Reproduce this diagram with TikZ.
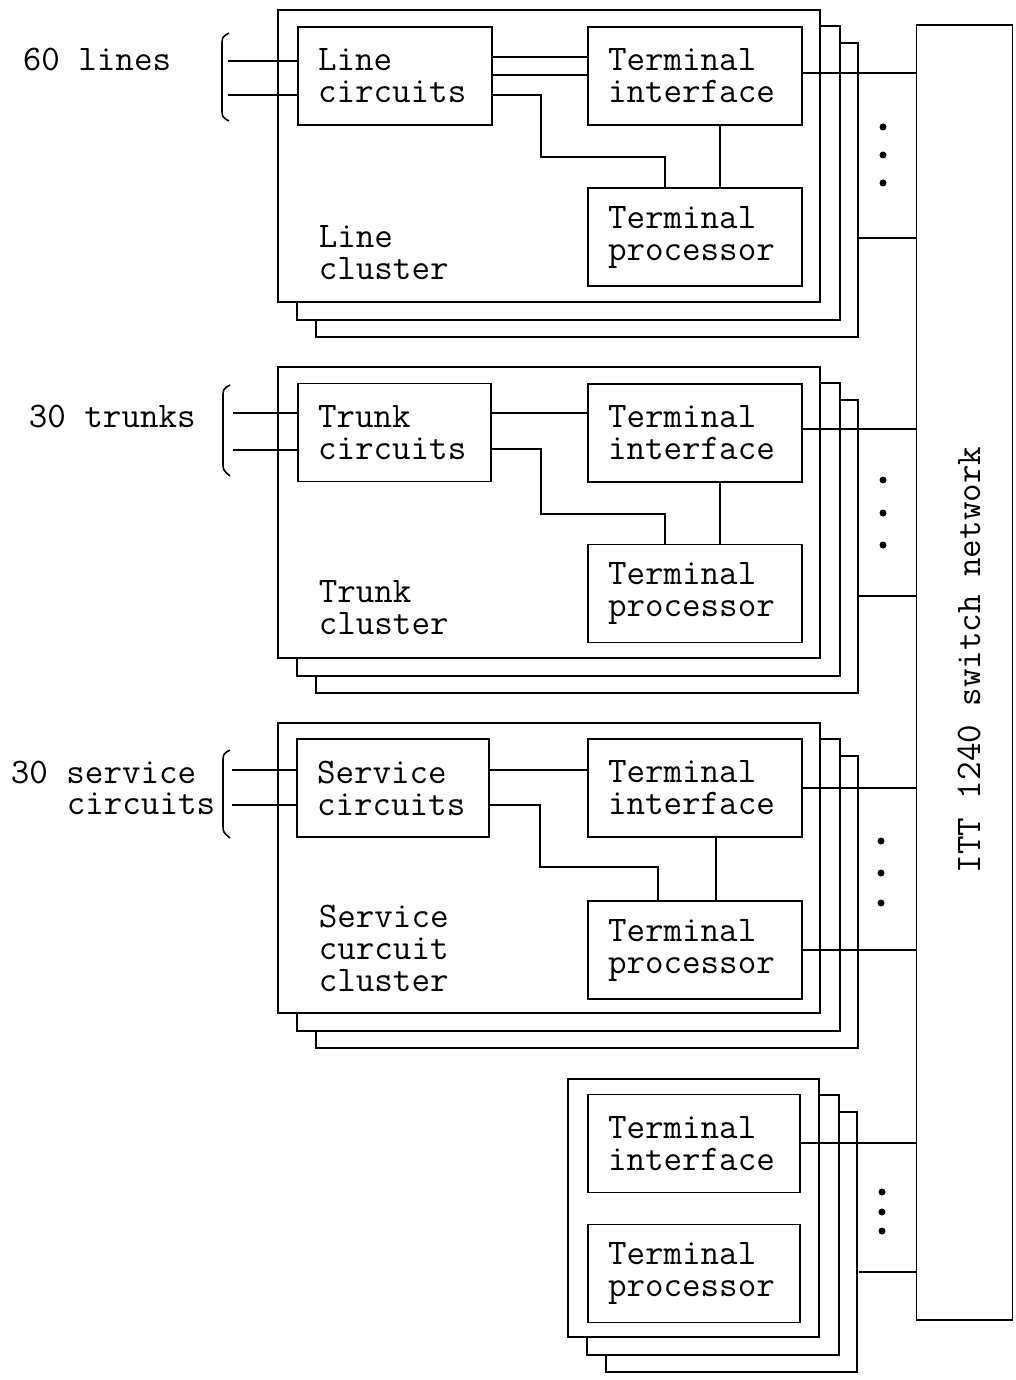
\documentclass[tikz,border=0pt]{standalone}
\usepackage{fontspec}
\usetikzlibrary{calc}
\begin{document}
\begin{tikzpicture}[x=1pt,y=-1pt,line width=1.6pt,
  every node/.style={font=\ttfamily\fontsize{36}{32}\selectfont},
  unit/.style={draw,rectangle,inner xsep=20pt,inner ysep=0pt,minimum height=98pt,align=left,text width=#1},
  cluster/.style={draw,rectangle,inner sep=0pt},
  lbl/.style={anchor=west,inner sep=0pt,align=left},
  dot/.style={fill=black}]
\useasboundingbox (0,0) rectangle (1016,1380);

% ---------- switch network ----------
\node[cluster,minimum width=96pt,minimum height=1295pt] (net) at (964.5,672.5) {};
\node[rotate=90,inner sep=0pt] (netlbl) at (969,660) {ITT 1240 switch network};

% ---------- cluster frames ----------
\node[cluster,minimum width=542pt,minimum height=292pt] (c1) at (549,156) {};
\node[cluster,minimum width=542pt,minimum height=291pt] (c2) at (549,512.5) {};
\node[cluster,minimum width=542pt,minimum height=290pt] (c3) at (549,868) {};
\node[cluster,minimum width=251pt,minimum height=258pt] (c4) at (693.5,1208) {};

% stacked copies behind each frame
\foreach \c in {c1,c2,c3,c4} {
  \draw ($(\c.north east)+(0,17)$) -- ++(19,0) -- ($(\c.south east)+(19,17)$)
        -- ($(\c.south west)+(20,17)$) -- ($(\c.south west)+(20,0)$);
  \draw ($(\c.north east)+(19,34)$) -- ++(18,0) -- ($(\c.south east)+(37,34)$)
        -- ($(\c.south west)+(39,34)$) -- ($(\c.south west)+(39,17)$);
}

% ---------- line cluster ----------
\node[unit=154pt] (lc1) at (395,76) {Line\\circuits};
\node[unit=174pt] (ti1) at (695,76) {Terminal\\interface};
\node[unit=174pt] (tp1) at (695,237) {Terminal\\processor};
\node[lbl] (cl1) at (318,253) {Line\\cluster};
\node[lbl] (in1) at (22,60) {60 lines};

\draw (lc1.east |- 0,57) -- (ti1.west |- 0,57);
\draw (lc1.east |- 0,75) -- (ti1.west |- 0,75);
\draw (lc1.east |- 0,95) -- (541,95) -- (541,157) -- (665,157) -- (tp1.north -| 665,0);
\draw (ti1.south -| 720,0) -- (tp1.north -| 720,0);
\draw (ti1.east |- 0,73) -- (net.west |- 0,73);
\coordinate (b1) at (857,238);
\draw (b1) -- (b1 -| net.west);
\coordinate (i1a) at (228,61);
\coordinate (i1b) at (228,95);
\draw (i1a) -- (i1a -| lc1.west);
\draw (i1b) -- (i1b -| lc1.west);
\draw (229,33) .. controls (222,37) .. (222,46) -- (222,108) .. controls (222,117) .. (229,121);
\foreach \y in {127,155,183} \fill[dot] (883,\y) circle (3.5);

% ---------- trunk cluster ----------
\node[unit=153pt] (tc2) at (394.5,432.5) {Trunk\\circuits};
\node[unit=174pt] (ti2) at (695,433) {Terminal\\interface};
\node[unit=174pt] (tp2) at (695,593.5) {Terminal\\processor};
\node[lbl] (cl2) at (318,608) {Trunk\\cluster};
\node[lbl] (in2) at (28,416) {30 trunks};

\draw (tc2.east |- 0,413) -- (ti2.west |- 0,413);
\draw (tc2.east |- 0,449) -- (541,449) -- (541,514) -- (665,514) -- (tp2.north -| 665,0);
\draw (ti2.south -| 720,0) -- (tp2.north -| 720,0);
\draw (ti2.east |- 0,429) -- (net.west |- 0,429);
\coordinate (b2) at (857,596);
\draw (b2) -- (b2 -| net.west);
\coordinate (i2a) at (233,413);
\coordinate (i2b) at (233,450);
\draw (i2a) -- (i2a -| tc2.west);
\draw (i2b) -- (i2b -| tc2.west);
\draw (230,385) .. controls (223,389) .. (223,398) -- (223,462) .. controls (223,470) .. (230,476);
\foreach \y in {480,513,545} \fill[dot] (883,\y) circle (3.5);

% ---------- service circuit cluster ----------
\node[unit=152pt] (sc3) at (393,788) {Service\\circuits};
\node[unit=174pt] (ti3) at (695,788) {Terminal\\interface};
\node[unit=174pt] (tp3) at (695,950) {Terminal\\processor};
\node[lbl] (cl3) at (318,948) {Service\\curcuit\\cluster};
\node[lbl] (in3a) at (10,772) {30 service};
\node[lbl] (in3b) at (66,804) {circuits};

\draw (sc3.east |- 0,770) -- (ti3.west |- 0,770);
\draw (sc3.east |- 0,805) -- (540,805) -- (540,867) -- (658,867) -- (tp3.north -| 658,0);
\draw (ti3.south -| 716,0) -- (tp3.north -| 716,0);
\draw (ti3.east |- 0,788) -- (net.west |- 0,788);
\draw (tp3.east |- 0,950) -- (net.west |- 0,950);
\coordinate (i3a) at (232,770);
\coordinate (i3b) at (232,805);
\draw (i3a) -- (i3a -| sc3.west);
\draw (i3b) -- (i3b -| sc3.west);
\draw (230,750) .. controls (223,754) .. (223,763) -- (223,825) .. controls (223,832) .. (230,838);
\foreach \y in {841,873,903} \fill[dot] (881,\y) circle (3.5);

% ---------- terminal pair ----------
\node[unit=172pt] (ti4) at (694,1143.5) {Terminal\\interface};
\node[unit=172pt] (tp4) at (694,1273.5) {Terminal\\processor};
\draw (ti4.east |- 0,1143) -- (net.west |- 0,1143);
\coordinate (b4) at (859,1272);
\draw (b4) -- (b4 -| net.west);
\foreach \y in {1192,1212,1231} \fill[dot] (882,\y) circle (3.5);
\end{tikzpicture}
\end{document}
